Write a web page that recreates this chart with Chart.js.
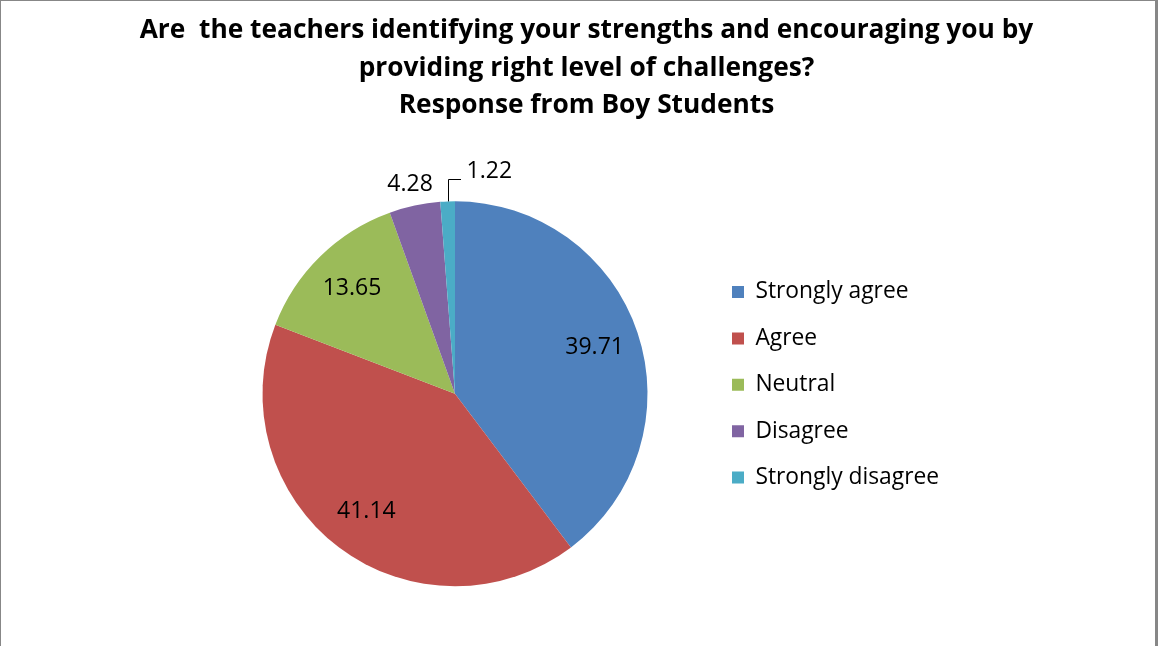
<!DOCTYPE html>
<html>
<head>
<meta charset="utf-8">
<script src="https://cdn.jsdelivr.net/npm/chart.js@4.4.1/dist/chart.umd.min.js"></script>
<style>
  html, body { margin: 0; padding: 0; background: #ffffff; }
  #wrap { position: relative; width: 1172px; height: 646px; overflow: hidden; }
  #frame { position: absolute; left: 0; top: 0; width: 1158px; height: 700px; box-sizing: border-box;
           border-left: 1px solid #878787; border-top: 1px solid #878787; border-right: 3px solid #878787;
           pointer-events: none; }
</style>
</head>
<body>
<div id="wrap">
  <canvas id="chart"></canvas>
  <div id="frame"></div>
</div>
<script>
// ---- data ----
const titleLines = [
  'Are  the teachers identifying your strengths and encouraging you by',
  'providing right level of challenges?',
  'Response from Boy Students'
];
const categories = ['Strongly agree', 'Agree', 'Neutral', 'Disagree', 'Strongly disagree'];
const values = [39.71, 41.14, 13.65, 4.28, 1.22];
const sliceColors = ['#4F81BD', '#C0504D', '#9BBB59', '#8064A2', '#4BACC6'];

// ---- layout targets ----
const W = 1172, H = 646;
const FONT = '"Open Sans", Lato, sans-serif';
const PIE_CX = 455, PIE_CY = 393.8, PIE_R = 192.5;
const LEGEND_BOX_X = 732, LEGEND_FIRST_MID = 292, LEGEND_STEP = 46.4, LEGEND_BOX = 12;
const TITLE_CX = 586.5, TITLE_LH = 37.5, TITLE_TOP = 12, TITLE_BOX_HALF = 456;
const LABEL_SIZE = 23;

// font sizes chosen so text widths match the reference
const mctx = document.createElement('canvas').getContext('2d');
mctx.font = 'bold 100px ' + FONT;
const TITLE_SIZE = Math.round(895 / mctx.measureText(titleLines[0]).width * 1000) / 10;
mctx.font = '100px ' + FONT;
const LEGEND_SIZE = Math.round(153 / mctx.measureText(categories[0]).width * 1000) / 10;
const LEGEND_PAD = LEGEND_STEP - LEGEND_SIZE;
mctx.font = LEGEND_SIZE + 'px ' + FONT;
const maxText = Math.max(...categories.map(c => mctx.measureText(c).width));

const padL = TITLE_CX - TITLE_BOX_HALF;
const padR = W - TITLE_CX - TITLE_BOX_HALF;
const legendLeft = LEGEND_BOX_X - LEGEND_PAD;
const areaLeft = 2 * PIE_CX - legendLeft;
const leftSpacer = Math.max(areaLeft - padL, 1);
const legendW = LEGEND_PAD + LEGEND_BOX + LEGEND_SIZE / 2 + maxText + 10;
const rightSpacer = Math.max(W - padR - legendLeft - legendW, 1);
const areaTop = LEGEND_FIRST_MID - LEGEND_SIZE / 2 - LEGEND_PAD;
const areaBottom = 2 * PIE_CY - areaTop;
const padB = H - areaBottom;
const titleBottomPad = areaTop - TITLE_TOP - TITLE_LH * titleLines.length;

const total = values.reduce((a, b) => a + b, 0);

const sliceLabels = {
  id: 'sliceLabels',
  afterDatasetsDraw(chart) {
    const ctx = chart.ctx;
    const meta = chart.getDatasetMeta(0);
    const data = chart.data.datasets[0].data;
    ctx.save();
    ctx.font = LABEL_SIZE + 'px ' + FONT;
    ctx.fillStyle = '#000';
    ctx.strokeStyle = '#000';
    ctx.lineWidth = 1;
    ctx.textBaseline = 'middle';
    meta.data.forEach((arc, i) => {
      const p = arc.getProps(['x', 'y', 'startAngle', 'endAngle', 'outerRadius'], true);
      const mid = (p.startAngle + p.endAngle) / 2;
      const c = Math.cos(mid), s = Math.sin(mid);
      const share = data[i] / total;
      const text = data[i].toFixed(2);
      if (share >= 0.08) {
        ctx.textAlign = 'center';
        const d = p.outerRadius * 0.765;
        ctx.fillText(text, p.x + c * d, p.y + s * d);
      } else if (share >= 0.02) {
        ctx.textAlign = 'center';
        const d = p.outerRadius + 22;
        ctx.fillText(text, p.x + c * d, p.y + s * d);
      } else {
        const ex = p.x + c * p.outerRadius, ey = p.y + s * p.outerRadius;
        const ly = ey - 22.7;
        ctx.beginPath();
        ctx.moveTo(Math.round(ex) + 0.5, ey);
        ctx.lineTo(Math.round(ex) + 0.5, Math.round(ly) + 0.5);
        ctx.lineTo(Math.round(ex) + 13, Math.round(ly) + 0.5);
        ctx.stroke();
        ctx.textAlign = 'left';
        ctx.fillText(text, ex + 19, ly - 7.5);
      }
    });
    ctx.restore();
  }
};

new Chart(document.getElementById('chart'), {
  type: 'pie',
  data: {
    labels: categories,
    datasets: [{
      data: values,
      backgroundColor: sliceColors,
      borderWidth: 0,
      radius: PIE_R
    }]
  },
  options: {
    responsive: true,
    maintainAspectRatio: false,
    animation: false,
    devicePixelRatio: 1,
    layout: { padding: { left: padL, right: padR, top: 0, bottom: padB } },
    scales: {
      // invisible spacer on the left so the pie sits left of the title centre
      gap: {
        type: 'linear',
        position: 'left',
        display: true,
        grid: { display: false, drawTicks: false },
        border: { display: false },
        ticks: { display: false },
        title: { display: true, text: '', font: { size: 1, lineHeight: 1 }, padding: { top: 0, bottom: leftSpacer - 1 } }
      }
    },
    plugins: {
      title: {
        display: true,
        text: titleLines,
        color: '#000',
        font: { family: FONT, size: TITLE_SIZE, weight: 'bold', lineHeight: TITLE_LH + 'px' },
        padding: { top: TITLE_TOP, bottom: titleBottomPad }
      },
      subtitle: {
        display: true,
        position: 'right',
        fullSize: false,
        text: '',
        font: { size: 1, lineHeight: 1 },
        padding: { top: 0, bottom: rightSpacer - 1 }
      },
      legend: {
        display: true,
        position: 'right',
        align: 'start',
        fullSize: false,
        maxWidth: 600,
        labels: {
          color: '#000',
          font: { family: FONT, size: LEGEND_SIZE },
          boxWidth: LEGEND_BOX,
          boxHeight: LEGEND_BOX,
          padding: LEGEND_PAD
        }
      },
      tooltip: { enabled: false }
    }
  },
  plugins: [sliceLabels]
});
</script>
</body>
</html>
